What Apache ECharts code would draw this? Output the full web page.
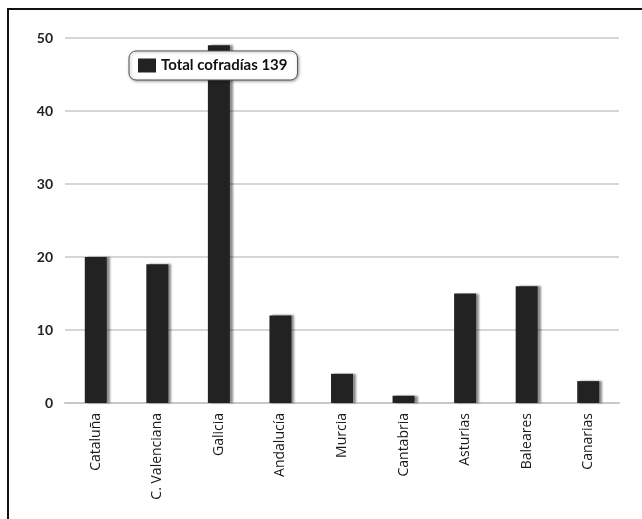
<!DOCTYPE html>
<html>
<head>
<meta charset="utf-8">
<script src="https://cdn.jsdelivr.net/npm/echarts@6/dist/echarts.min.js"></script>
<style>
html,body{margin:0;padding:0;background:#fff;}
#main{width:642px;height:519px;}
</style>
</head>
<body>
<div id="main"></div>
<script>
const categories = ['Cataluña','C. Valenciana','Galicia','Andalucía','Murcia','Cantabria','Asturias','Baleares','Canarias'];
const values = [20,19,49,12,4,1,15,16,3];
const seriesName = 'Total cofradías 139';

const chart = echarts.init(document.getElementById('main'));
chart.setOption({
  animation:false,
  backgroundColor:'#fff',
  graphic:[{
    type:'rect', silent:true, z:-1,
    shape:{x:8,y:9,width:700,height:600},
    style:{fill:'none',stroke:'#111',lineWidth:2}
  }],
  legend:{
    data:[seriesName],
    left:129, top:51,
    itemWidth:18, itemHeight:14,
    itemGap:6,
    padding:[7,10,7,9],
    borderColor:'#555', borderWidth:1, borderRadius:7,
    backgroundColor:'#fff',
    shadowColor:'rgba(0,0,0,0.35)', shadowBlur:3, shadowOffsetX:1, shadowOffsetY:1,
    textStyle:{fontFamily:'Lato',fontSize:15,color:'#111',fontWeight:'bold'},
    icon:'rect'
  },
  grid:{left:65,right:23,top:38,bottom:116},
  xAxis:{
    type:'category',
    data:categories,
    axisLine:{lineStyle:{color:'#c8c8c8',width:2}},
    axisTick:{show:false},
    axisLabel:{rotate:90,fontFamily:'Open Sans',fontSize:14,color:'#1a1a1a',margin:10}
  },
  yAxis:{
    type:'value',
    min:0,max:50,interval:10,
    axisLine:{show:false},
    axisTick:{show:false},
    splitLine:{lineStyle:{color:'#c8c8c8',width:1.5}},
    axisLabel:{fontFamily:'Lato',fontSize:14,fontWeight:'bold',color:'#222',margin:12}
  },
  series:[{
    name:seriesName,
    type:'bar',
    data:values,
    barWidth:22,
    itemStyle:{
      color:'#222',
      shadowColor:'rgba(0,0,0,0.45)',shadowOffsetX:3,shadowOffsetY:0,shadowBlur:2
    }
  }]
});
</script>
</body>
</html>
